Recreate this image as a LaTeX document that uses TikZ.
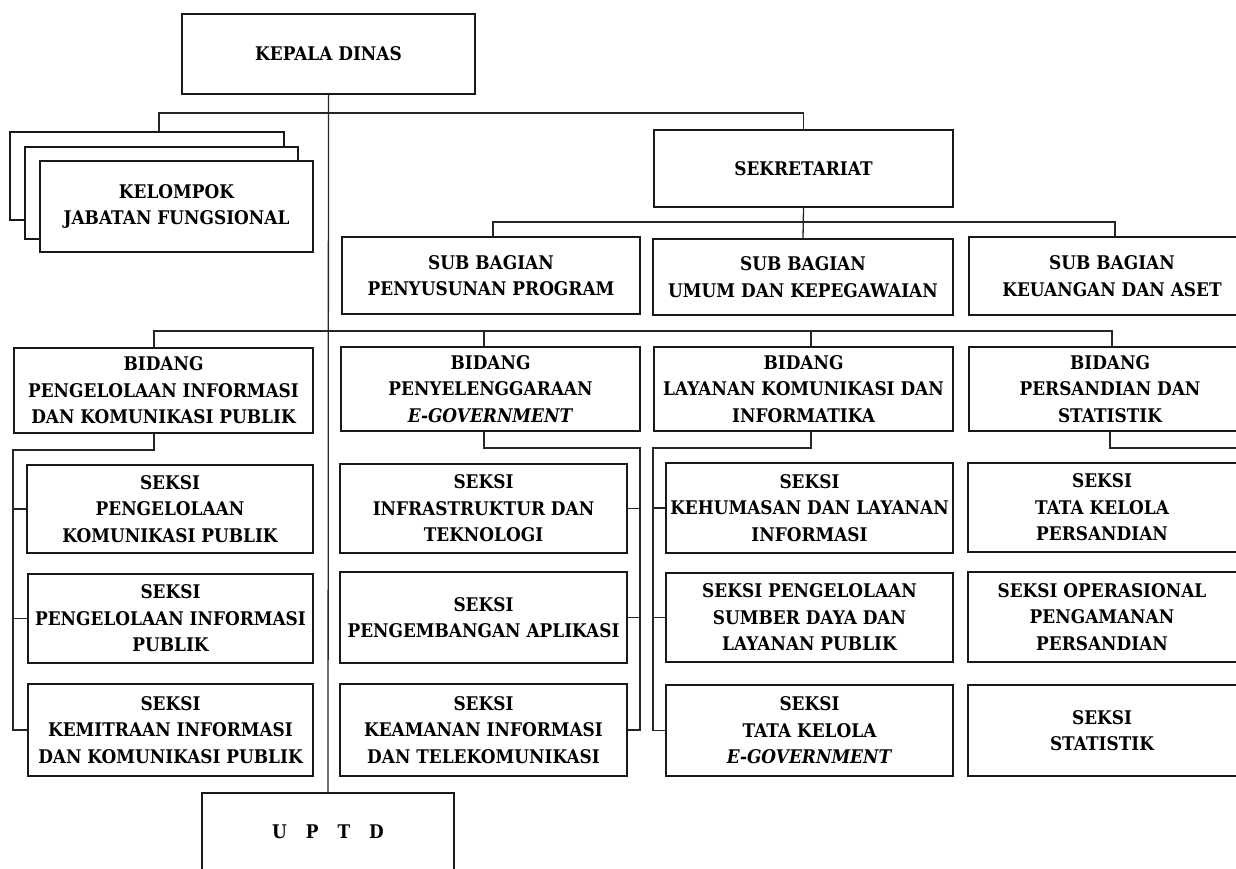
\documentclass[tikz,border=0pt]{standalone}
\usepackage{fontspec}
\setmainfont{DejaVu Serif}[FakeStretch=0.9]
\usetikzlibrary{calc}
\newcommand\orgbox[6]{\node[box, minimum width=#4pt, minimum height=#5pt] (#1) at (#2,#3) {#6};}
\begin{document}
\begin{tikzpicture}[x=1pt,y=-1pt,
  box/.style={draw=black!90, line width=1.4pt, fill=white, inner sep=0pt, align=center, font=\fontsize{18.8}{26.5}\selectfont\bfseries},
  txt/.style={inner sep=0pt, align=center, font=\fontsize{18.8}{26.5}\selectfont\bfseries},
  ln/.style={draw=black!85, line width=1.3pt}]
\useasboundingbox (0,0) rectangle (1236,868);
\clip (0,0) rectangle (1236,868);
\fill[white] (0,0) rectangle (1236,868);

% top
\orgbox{kepala}{328.5}{54}{293}{80}{KEPALA DINAS}
\orgbox{kjfb}{147}{176}{274}{88}{}
\orgbox{kjfm}{161.5}{193}{273}{92}{}
\orgbox{kjf}{176.5}{206.5}{273}{91}{KELOMPOK\\JABATAN FUNGSIONAL}
\orgbox{sekr}{803.5}{168.5}{299}{77}{SEKRETARIAT}

% sub bagian
\orgbox{sub1}{491}{275.5}{298}{77}{SUB BAGIAN\\PENYUSUNAN PROGRAM}
\orgbox{sub2}{803}{277}{300}{76}{SUB BAGIAN\\UMUM DAN KEPEGAWAIAN}
\orgbox{sub3}{1119}{276}{300}{78}{}
\node[txt] at (1112,276) {SUB BAGIAN\\KEUANGAN DAN ASET};

% bidang
\orgbox{bid1}{163.5}{390.5}{299}{85}{BIDANG\\PENGELOLAAN INFORMASI\\DAN KOMUNIKASI PUBLIK}
\orgbox{bid2}{490.5}{389}{299}{84}{BIDANG\\PENYELENGGARAAN\\\textit{E-GOVERNMENT}}
\orgbox{bid3}{803.5}{389}{299}{84}{BIDANG\\LAYANAN KOMUNIKASI DAN\\INFORMATIKA}
\orgbox{bid4}{1119}{389}{300}{84}{}
\node[txt] at (1110,389) {BIDANG\\PERSANDIAN DAN\\STATISTIK};

% seksi col 1
\orgbox{s11}{170}{509}{286}{88}{SEKSI\\PENGELOLAAN\\KOMUNIKASI PUBLIK}
\orgbox{s12}{170.5}{618.5}{285}{89}{SEKSI\\PENGELOLAAN INFORMASI\\PUBLIK}
\orgbox{s13}{170.5}{730}{285}{92}{SEKSI\\KEMITRAAN INFORMASI\\DAN KOMUNIKASI PUBLIK}
% seksi col 2
\orgbox{s21}{483.5}{508.5}{287}{89}{SEKSI\\INFRASTRUKTUR DAN\\TEKNOLOGI}
\orgbox{s22}{483.5}{617.5}{287}{91}{SEKSI\\PENGEMBANGAN APLIKASI}
\orgbox{s23}{483.5}{730}{287}{92}{SEKSI\\KEAMANAN INFORMASI\\DAN TELEKOMUNIKASI}
% seksi col 3
\orgbox{s31}{809.5}{508}{287}{90}{SEKSI\\KEHUMASAN DAN LAYANAN\\INFORMASI}
\orgbox{s32}{809.5}{617.5}{287}{89}{SEKSI PENGELOLAAN\\SUMBER DAYA DAN\\LAYANAN PUBLIK}
\orgbox{s33}{809.5}{730.5}{287}{91}{SEKSI\\TATA KELOLA\\\textit{E-GOVERNMENT}}
% seksi col 4
\orgbox{s41}{1118}{507.5}{300}{89}{}
\node[txt] at (1102,507.5) {SEKSI\\TATA KELOLA\\PERSANDIAN};
\orgbox{s42}{1118}{617}{300}{90}{}
\node[txt] at (1102,617) {SEKSI OPERASIONAL\\PENGAMANAN\\PERSANDIAN};
\orgbox{s43}{1118}{730.5}{300}{91}{}
\node[txt] at (1102,730.5) {SEKSI\\STATISTIK};

% uptd
\orgbox{uptd}{328}{832}{252}{78}{U\hspace{19pt}P\hspace{19pt}T\hspace{19pt}D}

% connectors
\coordinate (ja) at (159,113);
\draw[ln] (kepala.south) -- (uptd.north);
\draw[ln] (kjfb.north -| ja) -- (ja) -| (sekr.north);

\coordinate (jb) at (493,222);
\coordinate (jc) at (1115,222);
\draw[ln] (sekr.south) -- (sub2.north);
\draw[ln] (sub1.north -| jb) -- (jb) -- (jc) -- (sub3.north -| jc);

\coordinate (r1) at (154,331);
\coordinate (r2) at (484,331);
\coordinate (r3) at (811,331);
\coordinate (r4) at (1112,331);
\draw[ln] (bid1.north -| r1) -- (r1) -- (r4) -- (bid4.north -| r4);
\draw[ln] (r2) -- (bid2.north -| r2);
\draw[ln] (r3) -- (bid3.north -| r3);

\coordinate (c1) at (154,450);
\coordinate (c1l) at (13,450);
\draw[ln] (bid1.south -| c1) -- (c1) -- (c1l) |- (s13.west);
\draw[ln] (s11.west -| c1l) -- (s11.west);
\draw[ln] (s12.west -| c1l) -- (s12.west);

\coordinate (c2) at (484,448);
\coordinate (c2r) at (640,448);
\draw[ln] (bid2.south -| c2) -- (c2) -- (c2r) |- (s23.east);
\draw[ln] (s21.east -| c2r) -- (s21.east);
\draw[ln] (s22.east -| c2r) -- (s22.east);

\coordinate (c3) at (811,448);
\coordinate (c3l) at (653,448);
\draw[ln] (bid3.south -| c3) -- (c3) -- (c3l) |- (s33.west);
\draw[ln] (s31.west -| c3l) -- (s31.west);
\draw[ln] (s32.west -| c3l) -- (s32.west);

\coordinate (c4) at (1110,448);
\coordinate (c4r) at (1245,448);
\draw[ln] (bid4.south -| c4) -- (c4) -- (c4r);
\end{tikzpicture}
\end{document}
